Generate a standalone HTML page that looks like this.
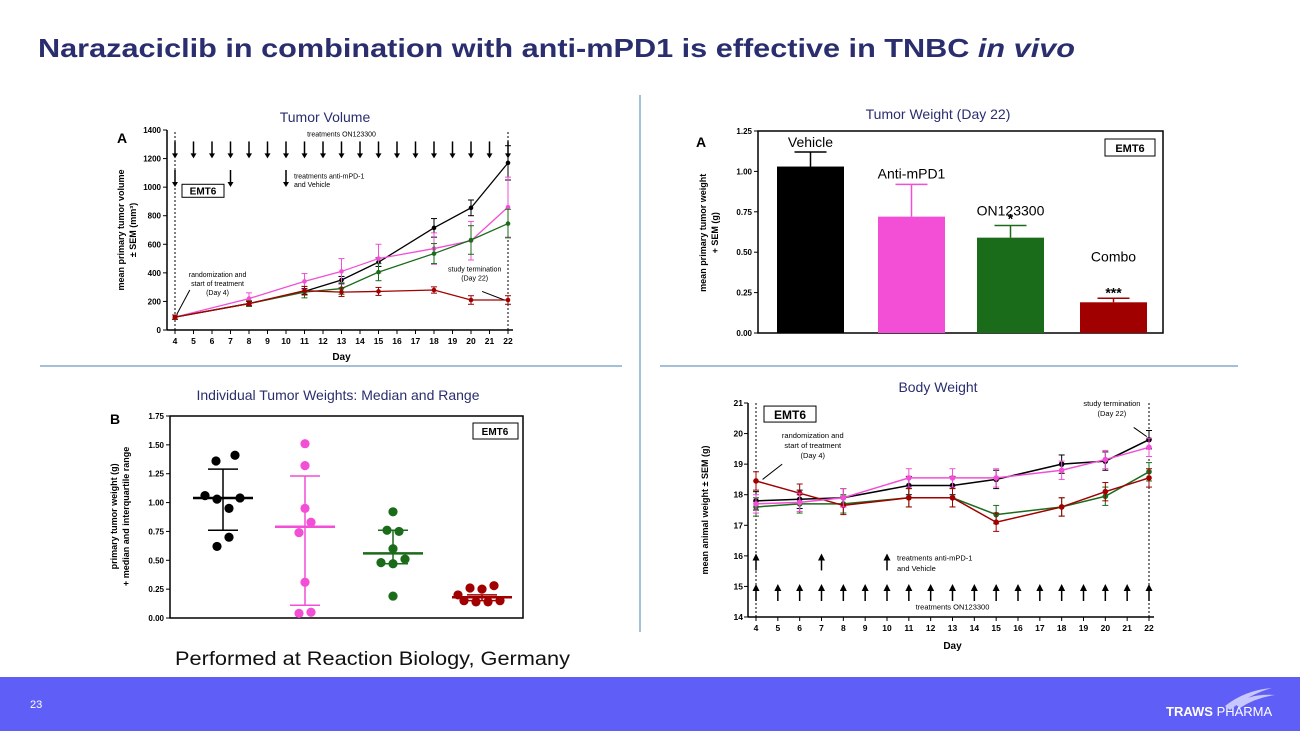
<!DOCTYPE html>
<html><head><meta charset="utf-8"><style>
html,body{margin:0;padding:0;background:#fff;}
svg{display:block;font-family:"Liberation Sans",sans-serif;}
</style></head><body>
<svg id="s" width="1300" height="731" viewBox="0 0 1300 731" xmlns="http://www.w3.org/2000/svg">
<text x="38" y="57" font-size="26" font-weight="bold" fill="#2a2e6e" textLength="1037" lengthAdjust="spacingAndGlyphs">Narazaciclib in combination with anti-mPD1 is effective in TNBC <tspan font-style="italic">in vivo</tspan></text>
<line x1="640" y1="95" x2="640" y2="632" stroke="#4a7fb0" stroke-width="1"/>
<line x1="40" y1="366" x2="622" y2="366" stroke="#4a7fb0" stroke-width="1"/>
<line x1="660" y1="366" x2="1238" y2="366" stroke="#4a7fb0" stroke-width="1"/>
<text x="325" y="122" font-size="14" fill="#2a2e6e" text-anchor="middle">Tumor Volume</text>
<text x="938" y="119" font-size="14" fill="#2a2e6e" text-anchor="middle">Tumor Weight (Day 22)</text>
<text x="338" y="400" font-size="14" fill="#2a2e6e" text-anchor="middle">Individual Tumor Weights: Median and Range</text>
<text x="938" y="392" font-size="14" fill="#2a2e6e" text-anchor="middle">Body Weight</text>
<text x="175" y="665" font-size="19" fill="#111" textLength="395" lengthAdjust="spacingAndGlyphs">Performed at Reaction Biology, Germany</text>
<rect x="0" y="677" width="1300" height="54" fill="#5f5ef7"/>
<text x="30" y="708" font-size="11" fill="#fff">23</text>
<text x="1166" y="716" font-size="13" fill="#fff"><tspan font-weight="bold">TRAWS</tspan> PHARMA</text>
<path d="M1225 706 Q1245 690 1272 688 Q1250 694 1230 710Z M1235 704 Q1252 693 1275 695 Q1255 698 1240 708Z" fill="#c8c8ff"/>
<g id="c1"></g><g id="c2"></g><g id="c3"></g><g id="c4"></g>
</svg>
<script>
// ---------- data ----------
const volDays=[4,8,11,13,15,18,20,22];
const volVehicle=[90,185,270,350,475,715,855,1170];
const volAnti=[90,220,340,410,500,570,625,860];
const volON=[90,185,265,290,405,535,630,745];
const volCombo=[90,185,275,265,270,280,210,210];
const volErr=[[15,15,20,25,30,65,55,120],[15,40,55,90,100,110,135,210],[15,20,40,40,60,70,100,100],[15,15,30,30,28,22,30,30]];
const volTicks=[0,200,400,600,800,1000,1200,1400];
const dayTicks=[4,5,6,7,8,9,10,11,12,13,14,15,16,17,18,19,20,21,22];
const barCats=["Vehicle","Anti-mPD1","ON123300","Combo"];
const barVals=[1.03,0.72,0.59,0.19];
const barErr=[0.09,0.2,0.075,0.025];
const barTicks=[0,0.25,0.5,0.75,1.0,1.25];
const scVehicle=[1.41,1.36,1.06,1.03,1.04,0.95,0.70,0.62];
const scAnti=[1.51,1.32,0.95,0.83,0.74,0.31,0.04,0.05];
const scON=[0.92,0.76,0.75,0.60,0.48,0.47,0.51,0.19];
const scCombo=[0.20,0.26,0.25,0.28,0.15,0.14,0.14,0.15];
const scMedian=[1.04,0.79,0.56,0.18];
const scQ1=[0.76,0.11,0.47,0.15];
const scQ3=[1.29,1.23,0.76,0.2];
const scTicks=[0,0.25,0.5,0.75,1.0,1.25,1.5,1.75];
const bwDays=[4,6,8,11,13,15,18,20,22];
const bwVehicle=[17.8,17.85,17.9,18.3,18.3,18.5,19.0,19.1,19.8];
const bwAnti=[17.7,17.75,17.9,18.55,18.55,18.55,18.8,19.15,19.55];
const bwON=[17.6,17.7,17.7,17.9,17.9,17.35,17.6,17.95,18.75];
const bwCombo=[18.45,18.05,17.65,17.9,17.9,17.1,17.6,18.1,18.55];
const bwTicks=[14,15,16,17,18,19,20,21];
const colors=["#000000","#f24fd6","#1a6b1a","#a00000"];
const NS="http://www.w3.org/2000/svg";
function mk(p,t,a){const e=document.createElementNS(NS,t);for(const k in a)e.setAttribute(k,a[k]);p.appendChild(e);return e;}
function tx(p,x,y,s,a){const e=mk(p,'text',Object.assign({x:x,y:y},a));e.textContent=s;return e;}
function lin(d0,d1,r0,r1){return v=>r0+(v-d0)/(d1-d0)*(r1-r0);}

// ---------- chart 1: tumor volume ----------
(function(){
const g=document.getElementById('c1');
const x=lin(4,22,175,508), y=lin(0,1400,330,130);
let e=mk(g,'line',{x1:x(4)-8,y1:y(0),x2:x(22)+5,y2:y(0),stroke:'#000','stroke-width':1.5});

e=mk(g,'line',{x1:x(4)-8,y1:y(0),x2:x(4)-8,y2:y(1400),stroke:'#000','stroke-width':1.5});

volTicks.forEach(t=>{mk(g,'line',{x1:x(4)-12,y1:y(t),x2:x(4)-8,y2:y(t),stroke:'#000'});
 e=tx(g,x(4)-14,y(t)+3,t,{'font-size':8,'font-weight':'bold','text-anchor':'end'});
 });
dayTicks.forEach(t=>{mk(g,'line',{x1:x(t),y1:y(0),x2:x(t),y2:y(0)+4,stroke:'#000'});
 e=tx(g,x(t),y(0)+14,t,{'font-size':8.5,'font-weight':'bold','text-anchor':'middle'});
 });
e=tx(g,x(13),y(0)+30,'Day',{'font-size':10,'font-weight':'bold','text-anchor':'middle'});

e=tx(g,0,0,'mean primary tumor volume',{'font-size':9,'font-weight':'bold','text-anchor':'middle',transform:`translate(124,${y(700)}) rotate(-90)`});

e=tx(g,0,0,'± SEM (mm³)',{'font-size':9,'font-weight':'bold','text-anchor':'middle',transform:`translate(136,${y(700)}) rotate(-90)`});

e=tx(g,117,143,'A',{'font-size':14,'font-weight':'bold'});
[4,22].forEach(d=>{e=mk(g,'line',{x1:x(d),y1:y(0),x2:x(d),y2:y(1400),stroke:'#000','stroke-dasharray':'2,2'});});
dayTicks.forEach(d=>{const yy=y(1250);mk(g,'line',{x1:x(d),y1:yy-10,x2:x(d),y2:yy+4,stroke:'#000','stroke-width':1.5});
 e=mk(g,'path',{d:`M${x(d)-3} ${yy+2}L${x(d)+3} ${yy+2}L${x(d)} ${yy+7}Z`,fill:'#000'});});
[4,7,10].forEach(d=>{const yy=y(1050);mk(g,'line',{x1:x(d),y1:yy-10,x2:x(d),y2:yy+4,stroke:'#000','stroke-width':1.5});
 e=mk(g,'path',{d:`M${x(d)-3} ${yy+2}L${x(d)+3} ${yy+2}L${x(d)} ${yy+7}Z`,fill:'#000'});});
tx(g,x(13),y(1355),'treatments ON123300',{'font-size':7,'text-anchor':'middle'});
tx(g,x(10)+8,y(1060),'treatments anti-mPD-1',{'font-size':7});
tx(g,x(10)+8,y(1000),'and Vehicle',{'font-size':7});
e=mk(g,'rect',{x:x(4)+7,y:y(1020),width:42,height:13,fill:'#fff',stroke:'#000'});
tx(g,x(4)+28,y(1020)+10,'EMT6',{'font-size':10,'font-weight':'bold','text-anchor':'middle'});
['randomization and','start of treatment','(Day 4)'].forEach((s,i)=>tx(g,x(6.3),y(370)+i*9,s,{'font-size':7,'text-anchor':'middle'}));
mk(g,'line',{x1:x(4.8),y1:y(280),x2:x(4.1),y2:y(110),stroke:'#000'});
['study termination','(Day 22)'].forEach((s,i)=>tx(g,x(20.2),y(410)+i*9,s,{'font-size':7,'text-anchor':'middle'}));
mk(g,'line',{x1:x(20.6),y1:y(270),x2:x(21.8),y2:y(210),stroke:'#000'});
[volVehicle,volAnti,volON,volCombo].forEach((s,k)=>{
 e=mk(g,'polyline',{points:s.map((v,i)=>x(volDays[i])+','+y(v)).join(' '),fill:'none',stroke:colors[k],'stroke-width':1.3});
 
 s.forEach((v,i)=>{const xx=x(volDays[i]),er=volErr[k][i];
  mk(g,'line',{x1:xx,y1:y(v-er),x2:xx,y2:y(v+er),stroke:colors[k]});
  mk(g,'line',{x1:xx-3,y1:y(v+er),x2:xx+3,y2:y(v+er),stroke:colors[k]});
  mk(g,'line',{x1:xx-3,y1:y(v-er),x2:xx+3,y2:y(v-er),stroke:colors[k]});
  e=mk(g,'circle',{cx:xx,cy:y(v),r:2.3,fill:colors[k]});});
});
})();

// ---------- chart 2: tumor weight bars ----------
(function(){
const g=document.getElementById('c2');
const y=lin(0,1.25,333,131);const bx=[777,878,977,1080],bw=67;
let e=mk(g,'rect',{x:758,y:131,width:405,height:202,fill:'none',stroke:'#000','stroke-width':1.5});

barTicks.forEach(t=>{mk(g,'line',{x1:754,y1:y(t),x2:758,y2:y(t),stroke:'#000'});
 e=tx(g,752,y(t)+3,t.toFixed(2),{'font-size':8,'font-weight':'bold','text-anchor':'end'});
 });
e=tx(g,0,0,'mean primary tumor weight',{'font-size':9,'font-weight':'bold','text-anchor':'middle',transform:`translate(706,${y(0.62)}) rotate(-90)`});

tx(g,0,0,'+ SEM (g)',{'font-size':9,'font-weight':'bold','text-anchor':'middle',transform:`translate(718,${y(0.62)}) rotate(-90)`});
tx(g,696,147,'A',{'font-size':14,'font-weight':'bold'});
mk(g,'rect',{x:1105,y:139,width:50,height:17,fill:'#fff',stroke:'#000'});
tx(g,1130,152,'EMT6',{'font-size':11,'font-weight':'bold','text-anchor':'middle'});
barVals.forEach((v,i)=>{const c=bx[i]+bw/2;
 e=mk(g,'rect',{x:bx[i],y:y(v),width:bw,height:y(0)-y(v),fill:colors[i]});
 
 mk(g,'line',{x1:c,y1:y(v),x2:c,y2:y(v+barErr[i]),stroke:colors[i],'stroke-width':1.5});
 mk(g,'line',{x1:c-16,y1:y(v+barErr[i]),x2:c+16,y2:y(v+barErr[i]),stroke:colors[i],'stroke-width':1.5});
 e=tx(g,c,y(v+barErr[i])-(i==3?37:i==2?10:i==1?6:5),barCats[i],{'font-size':14,'text-anchor':'middle'});
 
});
tx(g,bx[2]+bw/2,y(0.595+0.075)-1,'*',{'font-size':14,'font-weight':'bold','text-anchor':'middle'});
tx(g,bx[3]+bw/2,y(0.19+0.025)-1,'***',{'font-size':14,'font-weight':'bold','text-anchor':'middle'});
})();

// ---------- chart 3: individual tumor weights ----------
(function(){
const g=document.getElementById('c3');
const y=lin(0,1.75,618,416);const cx=[223,305,393,482];
const offs=[[12,-7,-18,-6,17,6,6,-6],[0,0,0,6,-6,0,-6,6],[0,-6,6,0,-12,0,12,0],[-24,-12,0,12,-18,-6,6,18]];
let e=mk(g,'rect',{x:170,y:416,width:353,height:202,fill:'none',stroke:'#000','stroke-width':1.5});

scTicks.forEach(t=>{mk(g,'line',{x1:166,y1:y(t),x2:170,y2:y(t),stroke:'#000'});
 e=tx(g,164,y(t)+3,t.toFixed(2),{'font-size':8,'font-weight':'bold','text-anchor':'end'});
 });
tx(g,0,0,'primary tumor weight (g)',{'font-size':9,'font-weight':'bold','text-anchor':'middle',transform:`translate(117,${y(0.88)}) rotate(-90)`});
tx(g,0,0,'+ median and interquartile range',{'font-size':9,'font-weight':'bold','text-anchor':'middle',transform:`translate(129,${y(0.88)}) rotate(-90)`});
tx(g,110,424,'B',{'font-size':14,'font-weight':'bold'});
mk(g,'rect',{x:473,y:423,width:45,height:16,fill:'#fff',stroke:'#000'});
tx(g,495,435,'EMT6',{'font-size':10,'font-weight':'bold','text-anchor':'middle'});
[scVehicle,scAnti,scON,scCombo].forEach((s,k)=>{const c=cx[k];
 s.forEach((v,i)=>{e=mk(g,'circle',{cx:c+offs[k][i],cy:y(v),r:4.6,fill:colors[k]});
  });
 e=mk(g,'line',{x1:c-30,y1:y(scMedian[k]),x2:c+30,y2:y(scMedian[k]),stroke:colors[k],'stroke-width':2.5});
 
 mk(g,'line',{x1:c,y1:y(scQ1[k]),x2:c,y2:y(scQ3[k]),stroke:colors[k],'stroke-width':1.5});
 mk(g,'line',{x1:c-15,y1:y(scQ1[k]),x2:c+15,y2:y(scQ1[k]),stroke:colors[k],'stroke-width':1.5});
 mk(g,'line',{x1:c-15,y1:y(scQ3[k]),x2:c+15,y2:y(scQ3[k]),stroke:colors[k],'stroke-width':1.5});
});
})();

// ---------- chart 4: body weight ----------
(function(){
const g=document.getElementById('c4');
const x=lin(4,22,756,1149), y=lin(14,21,617,403);
let e=mk(g,'line',{x1:x(4)-8,y1:y(14),x2:x(22)+5,y2:y(14),stroke:'#000','stroke-width':1.5});

e=mk(g,'line',{x1:x(4)-8,y1:y(14),x2:x(4)-8,y2:y(21),stroke:'#000','stroke-width':1.5});

bwTicks.forEach(t=>{mk(g,'line',{x1:x(4)-12,y1:y(t),x2:x(4)-8,y2:y(t),stroke:'#000'});
 e=tx(g,x(4)-13,y(t)+3,t,{'font-size':8.5,'font-weight':'bold','text-anchor':'end'});
 });
dayTicks.forEach(t=>{mk(g,'line',{x1:x(t),y1:y(14),x2:x(t),y2:y(14)+4,stroke:'#000'});
 e=tx(g,x(t),y(14)+14,t,{'font-size':8.5,'font-weight':'bold','text-anchor':'middle'});
 });
tx(g,x(13),y(14)+32,'Day',{'font-size':10,'font-weight':'bold','text-anchor':'middle'});
tx(g,0,0,'mean animal weight ± SEM (g)',{'font-size':9,'font-weight':'bold','text-anchor':'middle',transform:`translate(708,${y(17.5)}) rotate(-90)`});
[4,22].forEach(d=>mk(g,'line',{x1:x(d),y1:y(14),x2:x(d),y2:y(21),stroke:'#000','stroke-dasharray':'2,2'}));
mk(g,'rect',{x:x(4)+8,y:y(20.9),width:52,height:16,fill:'#fff',stroke:'#000'});
tx(g,x(4)+34,y(20.9)+13,'EMT6',{'font-size':12,'font-weight':'bold','text-anchor':'middle'});
['randomization and','start of treatment','(Day 4)'].forEach((s,i)=>tx(g,x(6.6),y(19.85)+i*10,s,{'font-size':7.5,'text-anchor':'middle'}));
mk(g,'line',{x1:x(5.2),y1:y(19.0),x2:x(4.3),y2:y(18.5),stroke:'#000'});
['study termination','(Day 22)'].forEach((s,i)=>tx(g,x(20.3),y(20.9)+i*10,s,{'font-size':7.5,'text-anchor':'middle'}));
mk(g,'line',{x1:x(21.3),y1:y(20.2),x2:x(21.9),y2:y(19.9),stroke:'#000'});
const up=(d,yy)=>{mk(g,'line',{x1:x(d),y1:yy+10,x2:x(d),y2:yy-2,stroke:'#000','stroke-width':1.5});
 e=mk(g,'path',{d:`M${x(d)-3.5} ${yy}L${x(d)+3.5} ${yy}L${x(d)} ${yy-7}Z`,fill:'#000'});};
dayTicks.forEach(d=>up(d,y(14.85)));
[4,7,10].forEach(d=>up(d,y(15.85)));
tx(g,x(13),y(14.25),'treatments ON123300',{'font-size':7.5,'text-anchor':'middle'});
tx(g,x(10)+10,y(15.85),'treatments anti-mPD-1',{'font-size':7.5});
tx(g,x(10)+10,y(15.5),'and Vehicle',{'font-size':7.5});
[bwVehicle,bwON,bwCombo,bwAnti].forEach((s,kk)=>{const k=[0,2,3,1][kk];
 e=mk(g,'polyline',{points:s.map((v,i)=>x(bwDays[i])+','+y(v)).join(' '),fill:'none',stroke:colors[k],'stroke-width':1.5});
 
 s.forEach((v,i)=>{const xx=x(bwDays[i]),er=0.3;
  mk(g,'line',{x1:xx,y1:y(v-er),x2:xx,y2:y(v+er),stroke:colors[k]});
  mk(g,'line',{x1:xx-3,y1:y(v+er),x2:xx+3,y2:y(v+er),stroke:colors[k]});
  mk(g,'line',{x1:xx-3,y1:y(v-er),x2:xx+3,y2:y(v-er),stroke:colors[k]});
  e=mk(g,'circle',{cx:xx,cy:y(v),r:2.8,fill:colors[k]});});
});
})();
</script>
</body></html>
